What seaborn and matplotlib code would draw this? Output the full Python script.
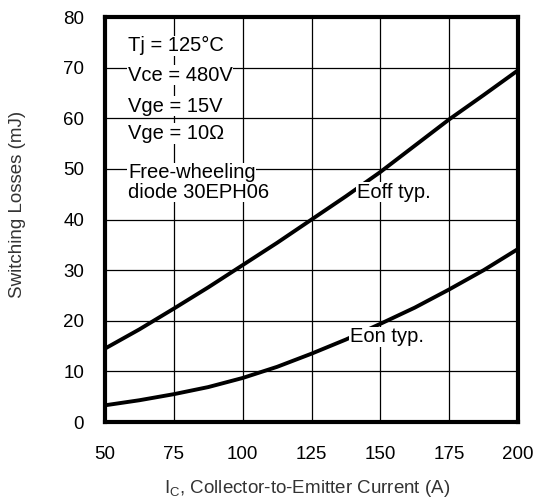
import pandas as pd
import numpy as np
import matplotlib
matplotlib.use('Agg')
import matplotlib.pyplot as plt
import seaborn as sns

# Values
current = [50, 62.5, 75, 87.5, 100, 112.5, 125, 137.5, 150, 162.5, 175, 187.5, 200]
eoff = [14.5, 18.3, 22.4, 26.6, 31.0, 35.4, 40.0, 44.6, 49.4, 54.6, 59.8, 64.6, 69.5]
eon = [3.3, 4.3, 5.5, 6.9, 8.7, 10.9, 13.5, 16.3, 19.4, 22.6, 26.2, 30.0, 34.2]

x_ticks = [50, 75, 100, 125, 150, 175, 200]
y_ticks = [0, 10, 20, 30, 40, 50, 60, 70, 80]

conditions = ["Tj = 125°C", "Vce = 480V", "Vge = 15V", "Vge = 10Ω",
              "Free-wheeling", "diode 30EPH06"]
condition_y = [74.3, 68.5, 62.4, 57.0, 49.2, 45.4]

df = pd.DataFrame({
    'current': current * 2,
    'energy': eoff + eon,
    'curve': ['Eoff'] * len(current) + ['Eon'] * len(current),
})

sns.set_style("white")
plt.rcParams['font.family'] = ['Liberation Sans', 'DejaVu Sans']

fig = plt.figure(figsize=(5.38, 5.03), dpi=100)
ax = fig.add_axes([0.195, 0.161, 0.768, 0.805])

sns.lineplot(data=df, x='current', y='energy', units='curve', estimator=None,
             color='black', linewidth=2.8, ax=ax, zorder=3, legend=False)

ax.set_xlim(50, 200)
ax.set_ylim(0, 80)
ax.set_xticks(x_ticks)
ax.set_yticks(y_ticks)
ax.grid(True, color='black', linewidth=0.9)
ax.set_axisbelow(True)
for s in ax.spines.values():
    s.set_linewidth(3)
    s.set_color('black')
ax.tick_params(axis='both', labelsize=13.5, colors='black', length=0)
ax.tick_params(axis='x', pad=17)
ax.tick_params(axis='y', pad=15)

ax.set_xlabel("I$_\\mathregular{C}$, Collector-to-Emitter Current (A)", fontsize=13.5,
              color='#333333')
ax.set_ylabel("Switching Losses (mJ)", fontsize=13.5, color='#333333')
ax.xaxis.set_label_coords(0.49, -0.138)
ax.yaxis.set_label_coords(-0.19, 0.538)

box = dict(facecolor='white', edgecolor='none', pad=0.5)
for txt, yy in zip(conditions, condition_y):
    ax.text(58.4, yy, txt, fontsize=14.5, color='black', va='center', ha='left',
            bbox=box, zorder=4)

ax.text(141.5, 45.4, "Eoff typ.", fontsize=14.5, color='black', va='center', ha='left',
        bbox=box, zorder=4)
ax.text(139, 16.8, "Eon typ.", fontsize=14.5, color='black', va='center', ha='left',
        bbox=box, zorder=4)

fig.savefig('out.png', dpi=100)
